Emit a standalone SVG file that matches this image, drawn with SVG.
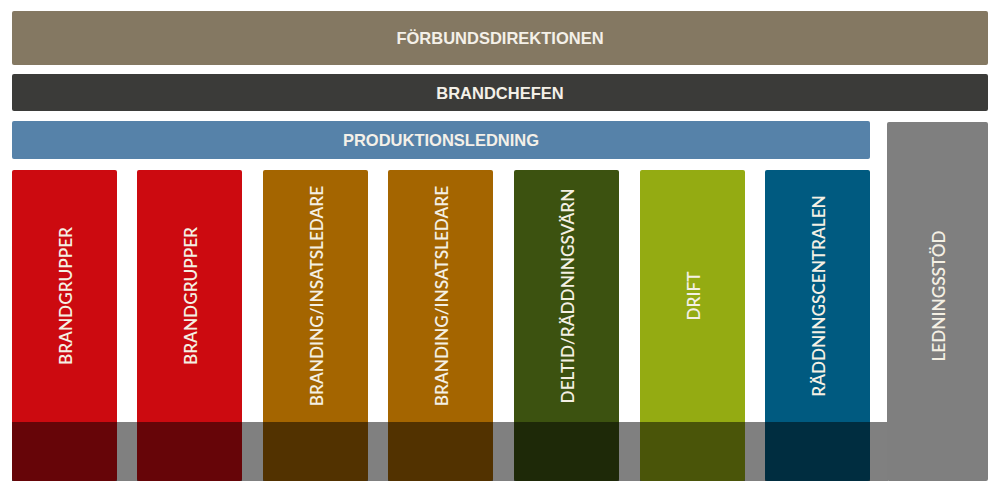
<svg xmlns="http://www.w3.org/2000/svg" width="1000" height="494" viewBox="0 0 1000 494">
<style>
.bar{font-family:"Liberation Sans",Arial,sans-serif;font-weight:bold;font-size:16.5px;fill:#f4f0e8;text-anchor:middle;dominant-baseline:central}
.col{font-family:Lato,"Noto Sans",sans-serif;font-weight:600;font-size:17.2px;fill:#f4f0e4;text-anchor:middle;dominant-baseline:central}
</style>
<rect width="1000" height="494" fill="#ffffff"/>
<g id="forbundsdirektionen"><rect x="12" y="11" width="976" height="54" rx="2" fill="#847862"/><text class="bar" x="500" y="38">FÖRBUNDSDIREKTIONEN</text></g>
<g id="brandchefen"><rect x="12" y="74" width="976" height="37" rx="2" fill="#3b3b39"/><text class="bar" x="500" y="93">BRANDCHEFEN</text></g>
<g id="produktionsledning"><rect x="12" y="121" width="858" height="38" rx="2" fill="#5682a9"/><text class="bar" x="441" y="140">PRODUKTIONSLEDNING</text></g>
<g id="band"><rect x="12" y="422" width="876" height="59" fill="#808080"/></g>
<g id="brandgrupper1"><rect x="12" y="170" width="105" height="311" rx="2" fill="#cc0a10"/><rect x="12" y="422" width="105" height="59" fill="#000" fill-opacity="0.5"/><text class="col" transform="translate(65,296) rotate(-90)">BRANDGRUPPER</text></g>
<g id="brandgrupper2"><rect x="137" y="170" width="105" height="311" rx="2" fill="#cc0a10"/><rect x="137" y="422" width="105" height="59" fill="#000" fill-opacity="0.5"/><text class="col" transform="translate(190,296) rotate(-90)">BRANDGRUPPER</text></g>
<g id="branding1"><rect x="263" y="170" width="105" height="311" rx="2" fill="#a46500"/><rect x="263" y="422" width="105" height="59" fill="#000" fill-opacity="0.5"/><text class="col" transform="translate(316,296) rotate(-90)">BRANDING/INSATSLEDARE</text></g>
<g id="branding2"><rect x="388" y="170" width="105" height="311" rx="2" fill="#a46500"/><rect x="388" y="422" width="105" height="59" fill="#000" fill-opacity="0.5"/><text class="col" transform="translate(441,296) rotate(-90)">BRANDING/INSATSLEDARE</text></g>
<g id="deltid"><rect x="514" y="170" width="105" height="311" rx="2" fill="#3c5210"/><rect x="514" y="422" width="105" height="59" fill="#000" fill-opacity="0.5"/><text class="col" transform="translate(567,296) rotate(-90)">DELTID/RÄDDNINGSVÄRN</text></g>
<g id="drift"><rect x="640" y="170" width="105" height="311" rx="2" fill="#94ab12"/><rect x="640" y="422" width="105" height="59" fill="#000" fill-opacity="0.5"/><text class="col" transform="translate(693,296) rotate(-90)">DRIFT</text></g>
<g id="raddningscentralen"><rect x="765" y="170" width="105" height="311" rx="2" fill="#005a80"/><rect x="765" y="422" width="105" height="59" fill="#000" fill-opacity="0.5"/><text class="col" transform="translate(818,296) rotate(-90)">RÄDDNINGSCENTRALEN</text></g>
<g id="ledningsstod"><rect x="887" y="122" width="101" height="359" rx="2" fill="#7f7f7f"/><text class="col" transform="translate(938.5,296) rotate(-90)">LEDNINGSSTÖD</text></g>
<g id="connectors"></g>
</svg>
